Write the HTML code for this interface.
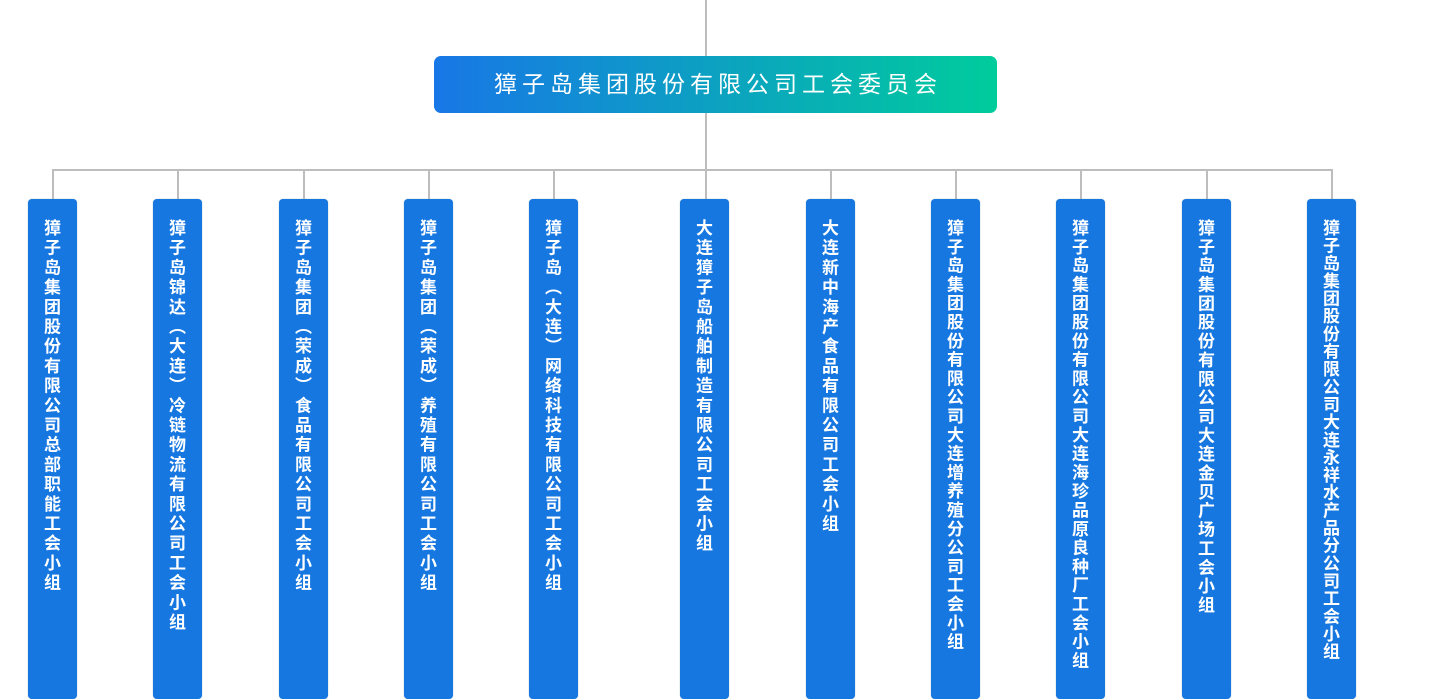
<!DOCTYPE html>
<html><head><meta charset="utf-8"><style>
body{margin:0;width:1430px;height:688px;background:#fff;position:relative;overflow:hidden;font-family:"Liberation Sans","Noto Sans CJK SC",sans-serif}
.l{position:absolute;background:#bdbdbd}
.top{position:absolute;left:434px;top:56px;width:563px;height:57px;border-radius:7px;background:linear-gradient(90deg,#1877e6,#00cc9c);color:#fff;font-size:23px;letter-spacing:5px;text-indent:5px;text-align:center;line-height:57px}
.b{position:absolute;top:199px;width:49px;height:500px;border-radius:4px;background:#1677e1;box-shadow:0 0 1px #8ab}
.b span{position:absolute;left:50%;top:20px;transform:translateX(-50%);writing-mode:vertical-rl;color:#fff;font-weight:bold;font-size:17px;font-family:"Noto Sans CJK SC",sans-serif;line-height:17px}
</style></head><body>
<div class="l" style="left:705px;top:0;width:2px;height:56px"></div>
<div class="top">獐子岛集团股份有限公司工会委员会</div>
<div class="l" style="left:705px;top:113px;width:2px;height:57px"></div>
<div class="l" style="left:52px;top:169px;width:1281px;height:2px"></div>
<div class="l" style="left:52px;top:169px;width:2px;height:31px"></div>
<div class="l" style="left:177px;top:169px;width:2px;height:31px"></div>
<div class="l" style="left:303px;top:169px;width:2px;height:31px"></div>
<div class="l" style="left:428px;top:169px;width:2px;height:31px"></div>
<div class="l" style="left:553px;top:169px;width:2px;height:31px"></div>
<div class="l" style="left:705px;top:169px;width:2px;height:31px"></div>
<div class="l" style="left:830px;top:169px;width:2px;height:31px"></div>
<div class="l" style="left:955px;top:169px;width:2px;height:31px"></div>
<div class="l" style="left:1080px;top:169px;width:2px;height:31px"></div>
<div class="l" style="left:1206px;top:169px;width:2px;height:31px"></div>
<div class="l" style="left:1331px;top:169px;width:2px;height:31px"></div>
<div class="b" style="left:28px"><span style="letter-spacing:2.7px">獐子岛集团股份有限公司总部职能工会小组</span></div>
<div class="b" style="left:153px"><span style="letter-spacing:2.7px">獐子岛锦达（大连）冷链物流有限公司工会小组</span></div>
<div class="b" style="left:279px"><span style="letter-spacing:2.7px">獐子岛集团（荣成）食品有限公司工会小组</span></div>
<div class="b" style="left:404px"><span style="letter-spacing:2.7px">獐子岛集团（荣成）养殖有限公司工会小组</span></div>
<div class="b" style="left:529px"><span style="letter-spacing:2.7px">獐子岛（大连）网络科技有限公司工会小组</span></div>
<div class="b" style="left:680px"><span style="letter-spacing:2.7px">大连獐子岛船舶制造有限公司工会小组</span></div>
<div class="b" style="left:806px"><span style="letter-spacing:2.7px">大连新中海产食品有限公司工会小组</span></div>
<div class="b" style="left:931px"><span style="letter-spacing:1.8px">獐子岛集团股份有限公司大连增养殖分公司工会小组</span></div>
<div class="b" style="left:1056px"><span style="letter-spacing:1.8px">獐子岛集团股份有限公司大连海珍品原良种厂工会小组</span></div>
<div class="b" style="left:1182px"><span style="letter-spacing:1.85px">獐子岛集团股份有限公司大连金贝广场工会小组</span></div>
<div class="b" style="left:1307px"><span style="letter-spacing:0.65px">獐子岛集团股份有限公司大连永祥水产品分公司工会小组</span></div>
</body></html>
